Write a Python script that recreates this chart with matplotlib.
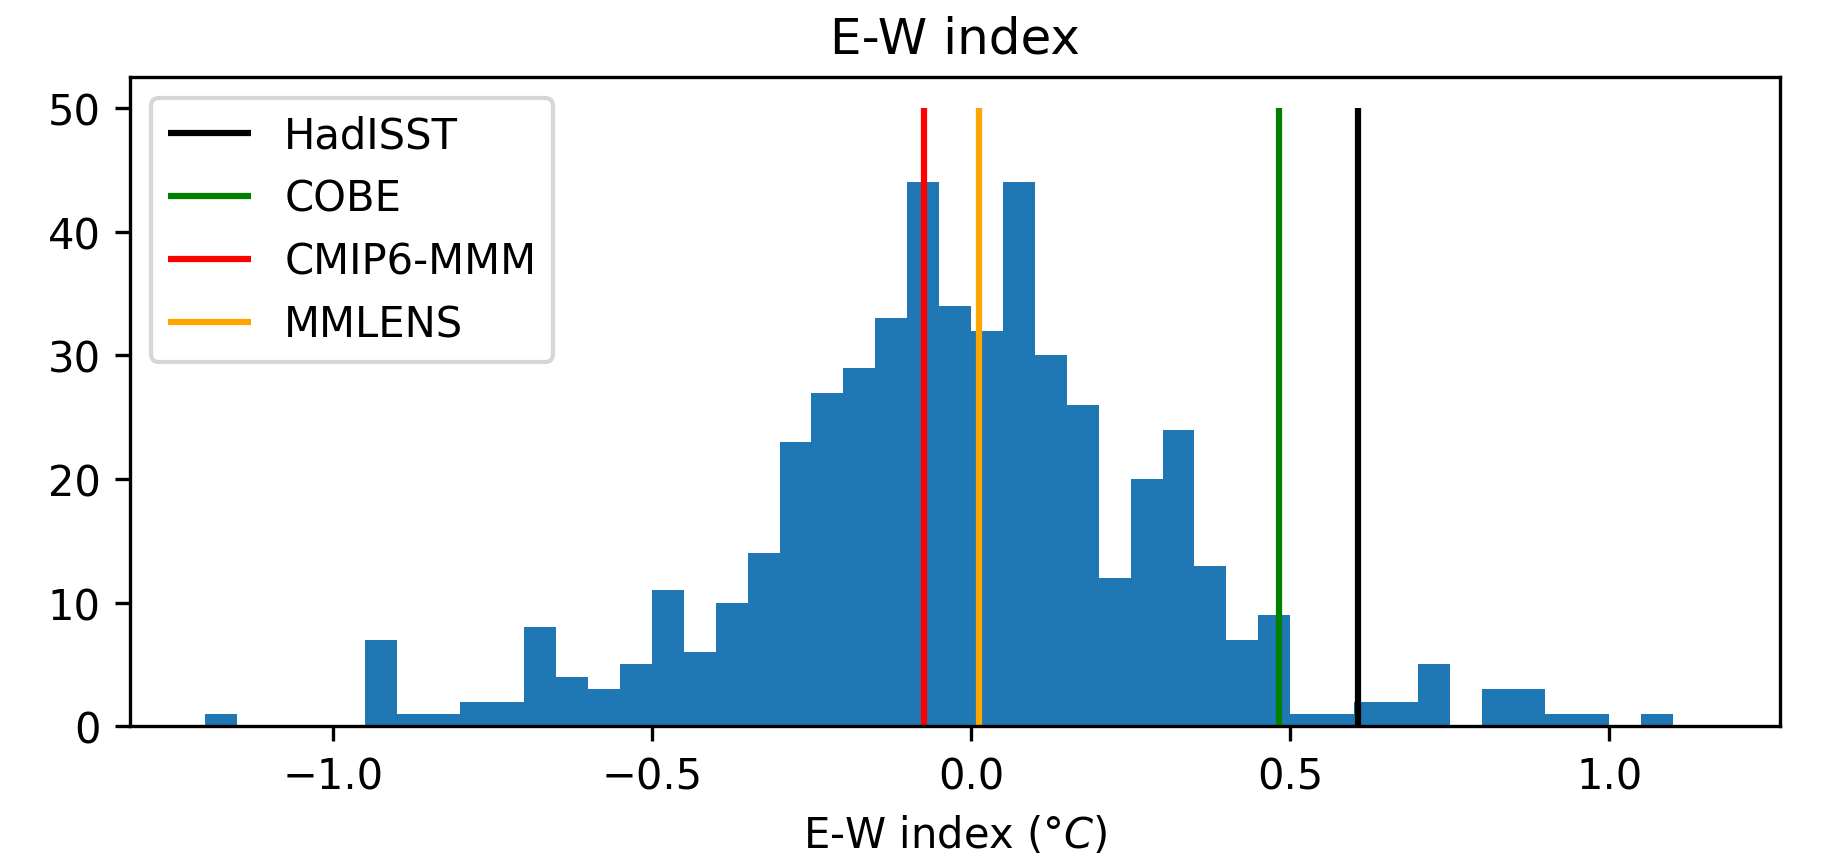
import numpy as np
from matplotlib import pyplot as plt

# histogram of the E-W index across ensemble members (bin width 0.05 degC)
bin_edges = np.round(np.arange(-1.2, 1.2, 0.05), 2)
counts = [1, 0, 0, 0, 0, 7, 1, 1, 2, 2,
          8, 4, 3, 5, 11, 6, 10, 14, 23, 27,
          29, 33, 44, 34, 32, 44, 30, 26, 12, 20,
          24, 13, 7, 9, 1, 1, 2, 2, 5, 0,
          3, 3, 1, 1, 0, 1, 0]

# reference values
ref_names = ['HadISST', 'COBE', 'CMIP6-MMM', 'MMLENS']
ref_values = [0.606, 0.482, -0.073, 0.012]
ref_colors = ['black', 'green', 'red', 'orange']

fig = plt.figure(figsize=(6.15, 2.8733), dpi=300)
ax = fig.add_axes([0.0705, 0.1563, 0.8943, 0.7529])

centers = 0.5 * (bin_edges[:-1] + bin_edges[1:])
ax.hist(centers, bins=bin_edges, weights=counts)

for name, val, col in zip(ref_names, ref_values, ref_colors):
    ax.vlines(val, 0, 50, color=col, label=name)

ax.legend(loc='upper left')
ax.set_title('E-W index')
ax.set_xlabel(r'E-W index ($\degree C$)')

fig.savefig('out.png', dpi=300)
plt.close()
